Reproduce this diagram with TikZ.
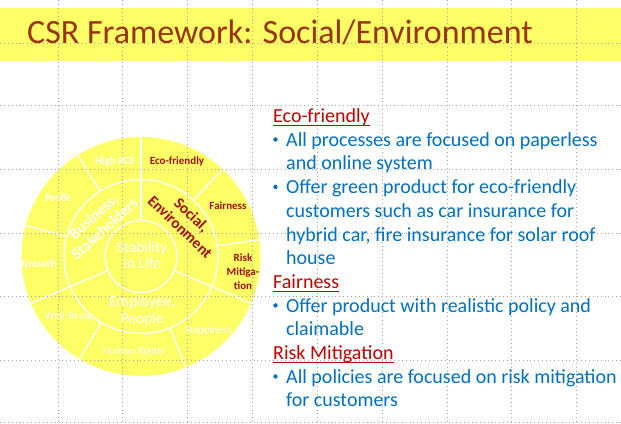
\documentclass[tikz,border=0pt]{standalone}
\usepackage{fontspec}
\setmainfont{Carlito}
\definecolor{bandyellow}{RGB}{255,255,102}
\definecolor{circyellow}{RGB}{255,255,102}
\definecolor{titlebrown}{RGB}{153,51,0}
\definecolor{headred}{RGB}{192,0,0}
\definecolor{labelred}{RGB}{160,16,16}
\definecolor{bodyblue}{RGB}{0,112,192}
\definecolor{gridgray}{RGB}{165,165,165}
\tikzset{
  gridline/.style={gridgray, line width=0.9pt, dash pattern=on 0.9pt off 3pt},
  ringline/.style={white, line width=1.4pt},
  smallw/.style={text=white, inner sep=0pt, align=center, font=\bfseries\fontsize{11}{13}\selectfont},
  smallwr/.style={text=white, inner sep=0pt, align=center, font=\fontsize{11}{13}\selectfont},
  smallr/.style={text=labelred, inner sep=0pt, align=center, font=\bfseries\fontsize{11}{14}\selectfont},
  bigw/.style={text=white, inner sep=0pt, align=center, font=\fontsize{15.5}{16.5}\selectfont},
  bigwb/.style={text=white, inner sep=0pt, align=center, font=\bfseries\fontsize{15.5}{16.5}\selectfont},
  bigrb/.style={text=labelred, inner sep=0pt, align=center, font=\bfseries\fontsize{15.5}{16.5}\selectfont},
  body/.style={anchor=base west, inner sep=0pt, text=bodyblue, font=\fontsize{20}{24}\selectfont},
  head/.style={anchor=base west, inner sep=0pt, text=headred, font=\fontsize{20}{24}\selectfont},
  bulletdot/.style={circle, fill=bodyblue, inner sep=0pt, minimum size=4.4pt},
  uline/.style={headred, line width=1.1pt},
}
\begin{document}
\begin{tikzpicture}[x=1pt,y=-1pt]
\useasboundingbox (0,0) rectangle (621,423);
\fill[white] (0,0) rectangle (621,423);
% title band
\fill[bandyellow] (0,8) rectangle (621,61);
% circle diagram
\begin{scope}[shift={(141,256.5)}, y=1pt]
  \fill[circyellow] (0,0) circle (119.5);
  \draw[ringline] (0,0) circle (77);
  \draw[ringline] (0,0) circle (36);
  \foreach \a in {90,203,337} \draw[ringline] (\a:36) -- (\a:77);
  \foreach \a in {90,122,165,203,239,292,337,8,47} \draw[ringline] (\a:77) -- (\a:119.5);
\end{scope}
% grid
\foreach \gx in {58,122,187,252,317,382,447,511,576} \draw[gridline] (\gx,0) -- (\gx,423);
\foreach \gy in {43,105,169,233,296,360,422} \draw[gridline] (0,\gy) -- (621,\gy);
% title
\node[anchor=base west, inner sep=0pt, text=titlebrown, font=\fontsize{34}{40}\selectfont] (title) at (27,43) {CSR Framework: Social/Environment};
% circle labels
\node[bigw] (core) at (142,255) {Stability\\in Life};
\node[bigw] (emp) at (142,311) {Employee,\\People};
\node[bigwb, rotate=42] (bus) at (99,222.5) {Business,\\Stakeholders};
\node[bigrb, rotate=-44] (soc) at (186,221) {Social,\\Environment};
\node[smallw] (roi) at (115,162) {High ROI};
\node[smallr] (eco) at (177,162) {Eco-friendly};
\node[smallw] (profit) at (58,198) {Profit};
\node[smallr] (fair) at (228,206) {Fairness};
\node[smallw] (growth) at (39,264) {Growth};
\node[smallr] (risk) at (243,272) {Risk\\Mitiga-\\tion};
\node[smallwr] (well) at (69,317) {Well-Being};
\node[smallwr] (happy) at (209,331) {Happiness};
\node[smallwr] (rights) at (134,352) {Human Rights};
% right text
\node[head] (h1) at (273,122.5) {Eco-friendly};
\draw[uline] ([yshift=-2.8pt]h1.base west) -- ([yshift=-2.8pt]h1.base east);
\node[bulletdot] (b1) at (275.5,139.5) {};
\node[body] (l1) at (286,146.2) {All processes are focused on paperless};
\node[body] (l2) at (286,169.9) {and online system};
\node[bulletdot] (b2) at (275.5,186.9) {};
\node[body] (l3) at (286,193.6) {Offer green product for eco-friendly};
\node[body] (l4) at (286,217.3) {customers such as car insurance for};
\node[body] (l5) at (286,241.0) {hybrid car, fire insurance for solar roof};
\node[body] (l6) at (286,264.7) {house};
\node[head] (h2) at (273,288.4) {Fairness};
\draw[uline] ([yshift=-2.8pt]h2.base west) -- ([yshift=-2.8pt]h2.base east);
\node[bulletdot] (b3) at (275.5,305.4) {};
\node[body] (l7) at (286,312.1) {Offer product with realistic policy and};
\node[body] (l8) at (286,335.8) {claimable};
\node[head] (h3) at (273,359.5) {Risk Mitigation};
\draw[uline] ([yshift=-2.8pt]h3.base west) -- ([yshift=-2.8pt]h3.base east);
\node[bulletdot] (b4) at (275.5,376.5) {};
\node[body] (l9) at (286,383.2) {All policies are focused on risk mitigation};
\node[body] (l10) at (286,406.9) {for customers};
\end{tikzpicture}
\end{document}
